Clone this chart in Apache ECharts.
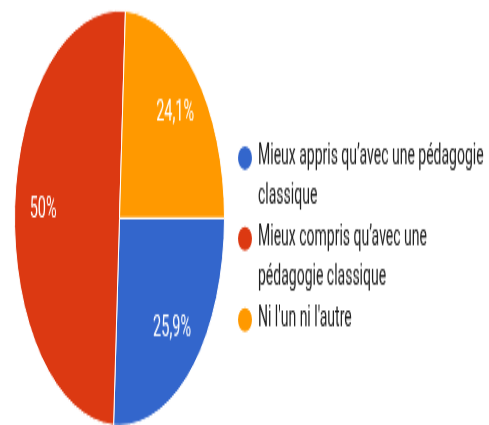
<!DOCTYPE html>
<html>
<head>
<meta charset="utf-8">
<script src="https://cdn.jsdelivr.net/npm/echarts@6/dist/echarts.min.js"></script>
<style>
  html, body { margin: 0; padding: 0; background: #fff; width: 489px; height: 425px; overflow: hidden; }
  /* the whole chart is drawn at half height and stretched vertically */
  #chart { position: absolute; left: 0; top: 0; width: 489px; height: 215px; transform-origin: 0 0; transform: scaleY(1.977); }
</style>
</head>
<body>
<div id="chart"></div>
<script>
// Survey answers and their shares (%)
const categories = [
  'Mieux appris qu’avec une pédagogie classique',
  'Mieux compris qu’avec une pédagogie classique',
  "Ni l'un ni l'autre"
];
const shares = [25.9, 50, 24.1];
const palette = ['#3366cc', '#dc3912', '#ff9900'];

const data = categories.map((name, i) => ({ name: name, value: shares[i] }));
const percentLabel = p => String(p.value).replace('.', ',') + '%';

const CENTER = [119.5, 110.3];
const RADIUS = 105;

const LEGEND_FONT = '14px Roboto';
const LEGEND_WIDTH = 232;
const LEGEND_MAX_LINES = 2;
const LEGEND_LINE = 20;

// Greedy word wrap measured with the legend font
const measureCtx = document.createElement('canvas').getContext('2d');
function wrapWords(text) {
  measureCtx.font = LEGEND_FONT;
  const lines = [];
  let cur = '';
  text.split(' ').forEach(w => {
    const next = cur ? cur + ' ' + w : w;
    if (cur && measureCtx.measureText(next).width > LEGEND_WIDTH) {
      lines.push(cur);
      cur = w;
    } else {
      cur = next;
    }
  });
  lines.push(cur);
  return lines;
}
// Legend text is centred on its marker, so pad with empty lines to keep
// the marker level with the first line of every entry
function legendText(name) {
  const lines = wrapWords(name);
  const pad = [];
  for (let i = 1; i < LEGEND_MAX_LINES; i++) pad.push('');
  const tail = [];
  for (let i = lines.length; i < LEGEND_MAX_LINES; i++) tail.push('');
  return pad.concat(lines, tail).join('\n');
}

const chart = echarts.init(document.getElementById('chart'));
chart.setOption({
  animation: false,
  color: palette,
  legend: {
    orient: 'vertical',
    left: 236,
    top: 49.9,
    padding: 0,
    itemGap: -19.1,
    itemWidth: 16,
    itemHeight: 14,
    icon: 'path://M0,50a50,50 0 1,0 100,0a50,50 0 1,0 -100,0Z',
    symbolKeepAspect: false,
    selectedMode: false,
    formatter: legendText,
    textStyle: {
      fontFamily: 'Roboto',
      fontSize: 14,
      color: '#212121',
      lineHeight: LEGEND_LINE
    },
    data: categories
  },
  series: [
    {
      type: 'pie',
      center: CENTER,
      radius: RADIUS,
      startAngle: 0,
      clockwise: true,
      silent: true,
      label: { show: false },
      labelLine: { show: false },
      itemStyle: { borderColor: '#fff', borderWidth: 1 },
      data: data
    },
    {
      // transparent ring that only carries the percentages, at ~0.7 of the radius
      type: 'pie',
      center: CENTER,
      radius: [42, RADIUS],
      startAngle: 0,
      clockwise: true,
      silent: true,
      itemStyle: { color: 'rgba(0,0,0,0)', borderWidth: 0 },
      label: {
        show: true,
        position: 'inside',
        formatter: percentLabel,
        color: '#fff',
        fontFamily: 'Roboto',
        fontSize: 14.5
      },
      labelLine: { show: false },
      data: data
    }
  ]
});
</script>
</body>
</html>
